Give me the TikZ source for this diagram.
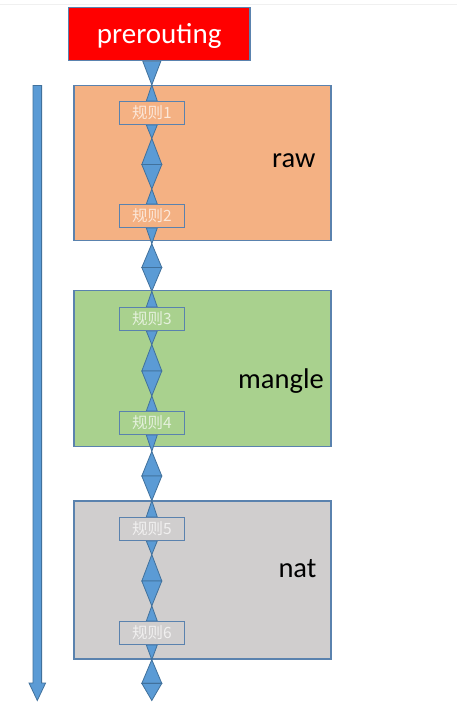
\documentclass[tikz,border=0pt]{standalone}
\usepackage{fontspec}
\setmainfont{Carlito}
\newfontfamily\cjk{Noto Sans CJK SC}
\usetikzlibrary{calc}
\definecolor{chainfill}{HTML}{5B9BD5}
\definecolor{edge}{HTML}{41719C}
\definecolor{boxedge}{HTML}{5A82AE}
\definecolor{rawfill}{HTML}{F4B183}
\definecolor{manglefill}{HTML}{A9D18E}
\definecolor{natfill}{HTML}{D0CECE}
\pgfdeclarelayer{bg}
\pgfdeclarelayer{mid}
\pgfsetlayers{bg,mid,main}
\newcommand\chainlink[5]{%
  \coordinate (q0) at (#1);
  \coordinate (q4) at (#2);
  \coordinate (q1) at ($(q0)!#3!(q4)$);
  \coordinate (q2) at ($(q0)!#4!(q4)$);
  \coordinate (q3) at ($(q0)!#5!(q4)$);
  \filldraw[chainpart] ([xshift=-5.5pt]q0) -- ([xshift=5.5pt]q0) -- (q1) -- cycle;
  \filldraw[chainpart] (q1) -- ([xshift=10pt]q2) -- ([xshift=-10pt]q2) -- cycle;
  \filldraw[chainpart] ([xshift=-10pt]q2) -- ([xshift=10pt]q2) -- (q3) -- cycle;
  \filldraw[chainpart] (q3) -- ([xshift=5.5pt]q4) -- ([xshift=-5.5pt]q4) -- cycle;
}
\begin{document}
\begin{tikzpicture}[x=1pt,y=-1pt,
  tablebox/.style={draw=boxedge, line width=1.4pt, inner sep=0pt, minimum width=257pt},
  rulebox/.style={draw=boxedge, line width=1.4pt, inner sep=0pt, minimum width=65pt,
    minimum height=22.5pt, font=\cjk\fontsize{15.5}{15.5}\selectfont},
  chainpart/.style={fill=chainfill, draw=edge, line width=0.8pt, line join=miter},
  tablelabel/.style={anchor=base west, font=\fontsize{28.5}{30}\selectfont, text=black, inner sep=0pt}]
\useasboundingbox (0,0) rectangle (457,719);
\begin{pgfonlayer}{bg}
\fill[white] (0,0) rectangle (457,719);
\draw[black!6, line width=0.8pt] (0,4) -- (457,4);
\node[tablebox, fill=rawfill, minimum height=155pt] (raw) at (202.5,163.1) {};
\node[tablebox, fill=manglefill, minimum height=156pt] (mangle) at (202.5,368.7) {};
\node[tablebox, fill=natfill, minimum height=158pt] (nat) at (202.5,580) {};
\node[draw=boxedge, line width=1.4pt, fill=red, minimum width=181.5pt, minimum height=53pt, inner sep=0pt] (pre) at (159.2,34.1) {};
\end{pgfonlayer}

\node[rulebox, fill=rawfill, text=white!70!rawfill] (r1) at (151.8,113) {规则1};
\node[rulebox, fill=rawfill, text=white!70!rawfill] (r2) at (151.8,216) {规则2};
\node[rulebox, fill=manglefill, text=white!70!manglefill] (r3) at (151.8,319) {规则3};
\node[rulebox, fill=manglefill, text=white!70!manglefill] (r4) at (151.8,423) {规则4};
\node[rulebox, fill=natfill, text=white!70!natfill] (r5) at (151.8,529) {规则5};
\node[rulebox, fill=natfill, text=white!70!natfill] (r6) at (151.8,633) {规则6};

\node[anchor=base, inner sep=0pt, text=white, font=\fontsize{29}{30}\selectfont] (pretext) at (159.2,43.3) {prerouting};
\node[tablelabel] (rawtext) at (272,168) {raw};
\node[tablelabel] (mangletext) at (238,388) {mangle};
\node[tablelabel] (nattext) at (278.3,577) {nat};

\coordinate (endc) at (151.8,700.5);
\coordinate (ltop) at (37.3,85.5);
\coordinate (lbot) at (37.3,700.5);

\begin{pgfonlayer}{mid}
% prerouting -> rule 1
\coordinate (pj) at (pre.south -| r1.north);
\coordinate (pk) at (raw.north -| r1.north);
\filldraw[chainpart] ([xshift=-9pt]pj) -- ([xshift=9pt]pj) -- (pk) -- cycle;
\filldraw[chainpart] (pk) -- ([xshift=5.5pt]r1.north) -- ([xshift=-5.5pt]r1.north) -- cycle;
% links between rules
\chainlink{r1.south}{r2.north}{0.17}{0.5}{0.81}
\chainlink{r2.south}{r3.north}{0.2}{0.5}{0.8}
\chainlink{r3.south}{r4.north}{0.17}{0.5}{0.81}
\chainlink{r4.south}{r5.north}{0.2}{0.5}{0.8}
\chainlink{r5.south}{r6.north}{0.17}{0.5}{0.81}
% rule 6 -> end
\coordinate (e1) at (nat.south -| r6.south);
\coordinate (e2) at ($(e1)!0.58!(endc)$);
\filldraw[chainpart] ([xshift=-5.5pt]r6.south) -- ([xshift=5.5pt]r6.south) -- (e1) -- cycle;
\filldraw[chainpart] (e1) -- ([xshift=10pt]e2) -- ([xshift=-10pt]e2) -- cycle;
\filldraw[chainpart] ([xshift=-10pt]e2) -- ([xshift=10pt]e2) -- (endc) -- cycle;
% left arrow
\filldraw[chainpart] ([xshift=-4.3pt]ltop) -- ([xshift=4.3pt]ltop)
  -- ($(lbot)+(4.3,-17.5)$) -- ($(lbot)+(8.3,-17.5)$) -- (lbot)
  -- ($(lbot)+(-8.3,-17.5)$) -- ($(lbot)+(-4.3,-17.5)$) -- cycle;
\end{pgfonlayer}
\end{tikzpicture}
\end{document}
